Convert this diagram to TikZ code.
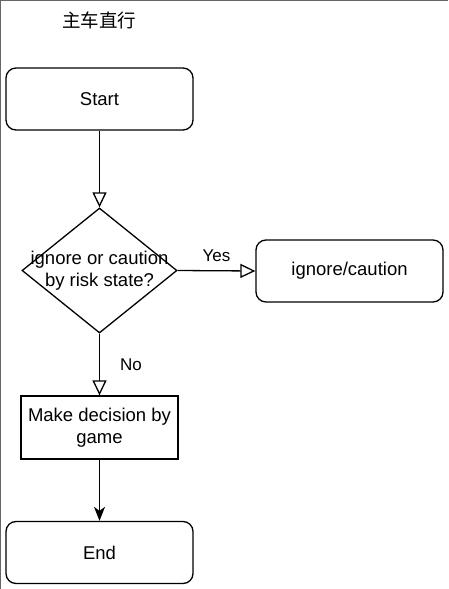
\documentclass[tikz,border=0pt]{standalone}
\usepackage{fontspec}
\setmainfont{Liberation Sans}
\newfontfamily\cjk{Noto Sans CJK SC}
\usetikzlibrary{arrows.meta,shapes.geometric}
\tikzset{
  base/.style={draw=black, line width=1.3pt, align=center, font=\fontsize{18.5}{22.5}\selectfont, inner sep=0pt},
  term/.style={base, rounded corners=10pt, minimum width=187pt, minimum height=62pt},
  proc/.style={base, minimum width=157pt, minimum height=63pt},
  dec/.style={base, diamond, minimum width=155pt, minimum height=125pt, aspect=1.24},
  txt/.style={align=center, font=\fontsize{18.5}{22.5}\selectfont, inner sep=0pt},
  openarr/.style={line width=1.3pt, -{Triangle[open, length=15pt, width=14pt]}},
  fillarr/.style={line width=1.3pt, -{Stealth[length=14pt, width=11pt, inset=4pt]}},
  lbl/.style={font=\fontsize{17}{20}\selectfont, inner sep=0pt},
}
\begin{document}
\begin{tikzpicture}[x=1pt,y=-1pt]
\useasboundingbox (0,0) rectangle (448,589);
\draw[gray!80!black, line width=1.5pt] (0.5,589) -- (0.5,0.5) -- (448,0.5);
\node[font=\cjk\fontsize{18.5}{22}\selectfont, inner sep=0pt] (title) at (99,20) {主车直行};
\node[term] (start) at (99.5,99) {Start};
\node[dec] (d) at (99.5,270.5) {};
\node[txt] (dtext) at (d.center) {ignore or caution\\by risk state?};
\node[term] (ign) at (349.5,271) {ignore/caution};
\node[proc] (game) at (99.5,427.5) {Make decision by\\game};
\node[term] (end) at (99.5,552.5) {End};
\draw[openarr] (start) -- (d);
\draw[openarr] (d.east) -- (ign.west) node[lbl, midway, above=8pt] (yes) {Yes};
\draw[openarr] (d.south) -- (game.north) node[lbl, midway, right=20pt] (no) {No};
\draw[fillarr] (game) -- (end);
\end{tikzpicture}
\end{document}
